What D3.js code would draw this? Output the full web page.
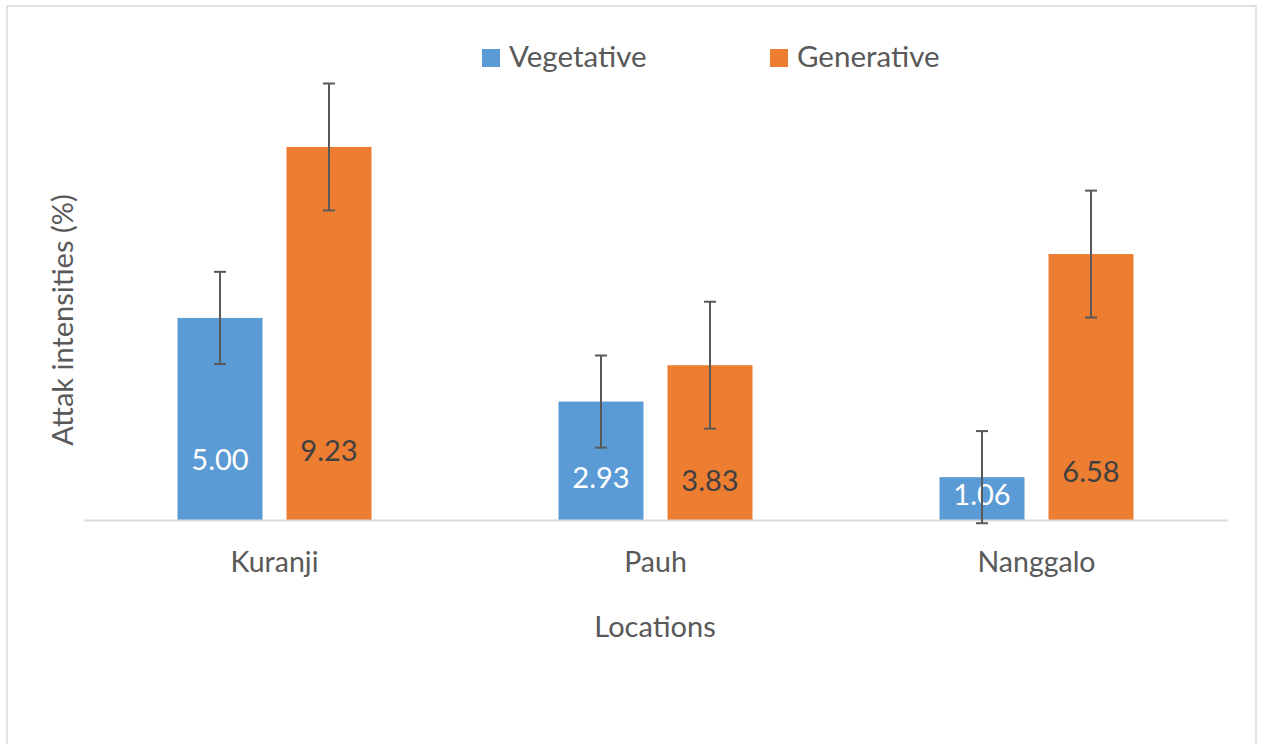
<!DOCTYPE html>
<html>
<head>
<meta charset="utf-8">
<script src="https://cdn.jsdelivr.net/npm/d3@7"></script>
<style>
  html, body { margin: 0; padding: 0; background: #fff; }
  svg { display: block; font-family: Lato, "Open Sans", sans-serif; }
</style>
</head>
<body>
<svg id="chart" width="1261" height="744"></svg>
<script>
// ---- data ----
const categories = ["Kuranji", "Pauh", "Nanggalo"];
const seriesNames = ["Vegetative", "Generative"];
const vegetative = [5.00, 2.93, 1.06];
const generative = [9.23, 3.83, 6.58];
const vegetativeErr = [1.14, 1.14, 1.14];
const generativeErr = [1.57, 1.57, 1.57];
const valueLabels = [["5.00", "9.23"], ["2.93", "3.83"], ["1.06", "6.58"]];
const xTitle = "Locations";
const yTitle = "Attak intensities (%)";

// ---- layout (label anchors in value units, as placed in the original) ----
const labelAnchor = [[1.48, 1.70], [1.04, 0.97], [0.63, 1.18]];
const colors = { Vegetative: "#5B9BD5", Generative: "#ED7D31" };
const labelColors = { Vegetative: "#ffffff", Generative: "#404040" };

const svg = d3.select("#chart");
svg.append("rect").attr("x", 7).attr("y", 6).attr("width", 1249).attr("height", 760)
  .attr("fill", "none").attr("stroke", "#d9d9d9").attr("stroke-width", 1.5);

const x0 = d3.scaleBand().domain(categories).range([84, 1227]).paddingInner(0).paddingOuter(0);
const x1 = d3.scaleBand().domain(seriesNames).range([0, x0.bandwidth()])
  .paddingInner(24 / 109).paddingOuter(0.858);
const y = d3.scaleLinear().domain([0, 12]).range([520, 35]);

const rows = categories.map((c, i) => seriesNames.map((s, j) => ({
  cat: c, series: s,
  value: s === "Vegetative" ? vegetative[i] : generative[i],
  err: s === "Vegetative" ? vegetativeErr[i] : generativeErr[i],
  label: valueLabels[i][j],
  anchor: labelAnchor[i][j]
}))).flat();

// bars
svg.append("g").selectAll("rect").data(rows).join("rect")
  .attr("x", d => x0(d.cat) + x1(d.series))
  .attr("y", d => y(d.value))
  .attr("width", x1.bandwidth())
  .attr("height", d => y(0) - y(d.value))
  .attr("fill", d => colors[d.series]);

// axis line
const xAxis = svg.append("g").attr("transform", `translate(0,${y(0)})`)
  .call(d3.axisBottom(x0).tickSize(0).tickPadding(32));
xAxis.select(".domain").attr("stroke", "#d9d9d9").attr("stroke-width", 2);
xAxis.selectAll("text").attr("font-size", 28.5).attr("fill", "#595959")
  .attr("font-family", "Lato, sans-serif");

// data labels
svg.append("g").selectAll("text").data(rows).join("text")
  .attr("x", d => x0(d.cat) + x1(d.series) + x1.bandwidth() / 2)
  .attr("y", d => y(d.anchor))
  .attr("dy", "0.35em")
  .attr("text-anchor", "middle")
  .attr("font-size", 29)
  .attr("fill", d => labelColors[d.series])
  .text(d => d.label);

// error bars
const eb = svg.append("g").attr("stroke", "#595959").attr("stroke-width", 2).attr("fill", "none");
rows.forEach(d => {
  const cx = x0(d.cat) + x1(d.series) + x1.bandwidth() / 2;
  const yt = y(d.value + d.err), yb = y(d.value - d.err);
  eb.append("line").attr("x1", cx).attr("x2", cx).attr("y1", yt).attr("y2", yb);
  eb.append("line").attr("x1", cx - 6).attr("x2", cx + 6).attr("y1", yt).attr("y2", yt);
  eb.append("line").attr("x1", cx - 6).attr("x2", cx + 6).attr("y1", yb).attr("y2", yb);
});

// axis titles
svg.append("text").attr("x", 655).attr("y", 637).attr("text-anchor", "middle")
  .attr("font-size", 29).attr("fill", "#595959").text(xTitle);
svg.append("text").attr("transform", "translate(73,320) rotate(-90)")
  .attr("text-anchor", "middle").attr("font-size", 29).attr("fill", "#595959").text(yTitle);

// legend
const legendX = [482, 770];
const lg = svg.append("g");
seriesNames.forEach((s, i) => {
  lg.append("rect").attr("x", legendX[i]).attr("y", 49).attr("width", 18).attr("height", 18)
    .attr("fill", colors[s]);
  lg.append("text").attr("x", legendX[i] + 27).attr("y", 67)
    .attr("font-size", 29.5).attr("fill", "#595959").text(s);
});
</script>
</body>
</html>
